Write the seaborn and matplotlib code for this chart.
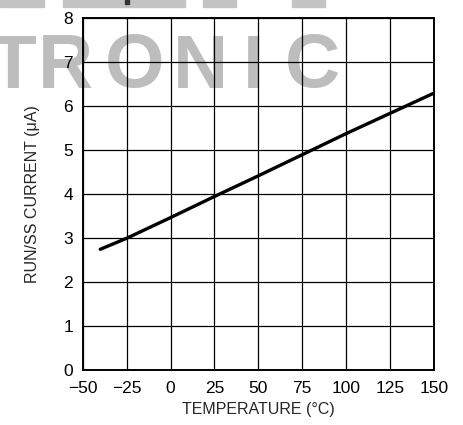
import matplotlib
matplotlib.use("Agg")
import matplotlib.pyplot as plt
import seaborn as sns
import pandas as pd
from matplotlib.patches import Rectangle

temperature = [-40, -25, 0, 25, 50, 75, 100, 125, 150]
current_ua = [2.75, 3.0, 3.47, 3.95, 4.42, 4.9, 5.38, 5.84, 6.3]
x_ticks = [-50, -25, 0, 25, 50, 75, 100, 125, 150]
x_tick_labels = ["\u221250", "\u221225", "0", "25", "50", "75", "100", "125", "150"]
y_ticks = [0, 1, 2, 3, 4, 5, 6, 7, 8]

df = pd.DataFrame({"temp": temperature, "current": current_ua})

sns.set_style("white")
plt.rcParams["font.family"] = ["Liberation Sans", "DejaVu Sans"]

W, H = 463, 425
fig = plt.figure(figsize=(W / 100, H / 100), dpi=100)
ax = fig.add_axes([0.1786, 0.1287, 0.7588, 0.8283])
ax.set_axisbelow(True)

# watermark, sits under the grid
for letter, xp in zip("TRONIC", [13, 65, 135, 200, 253, 312]):
    ax.text(xp / W, 1 - 68 / H, letter, color="#bdbdbd", fontsize=55,
            fontweight="bold", ha="center", va="center", zorder=0.1,
            transform=fig.transFigure, clip_on=False)
# cut-off pieces of the watermark row above
for x0, x1 in [(0, 44), (63, 185), (203, 236), (292, 325)]:
    fig.patches.append(Rectangle((x0 / W, 1 - 7 / H), (x1 - x0) / W, 7 / H,
                                 transform=fig.transFigure, color="#c4c4c4", zorder=0))
fig.patches.append(Rectangle((125 / W, 1 - 4 / H), 4 / W, 4 / H,
                             transform=fig.transFigure, color="#333333", zorder=0))

sns.lineplot(data=df, x="temp", y="current", ax=ax, color="black", linewidth=2.4, zorder=3)

ax.set_xlim(-50, 150)
ax.set_ylim(0, 8)
ax.set_xticks(x_ticks)
ax.set_xticklabels(x_tick_labels)
ax.set_yticks(y_ticks)
ax.grid(True, color="black", linewidth=0.9, zorder=1)
ax.tick_params(axis="x", length=0, labelsize=12.5, pad=8, colors="black")
ax.tick_params(axis="y", length=0, labelsize=12.5, pad=7, colors="black")
for s in ax.spines.values():
    s.set_color("black")
    s.set_linewidth(1.4)
    s.set_zorder(4)

ax.set_xlabel("TEMPERATURE (\u00b0C)", fontsize=11.5, labelpad=4)
ax.set_ylabel("RUN/SS CURRENT (\u03bcA)", fontsize=11.5, labelpad=17)

fig.savefig("out.png", dpi=100)
